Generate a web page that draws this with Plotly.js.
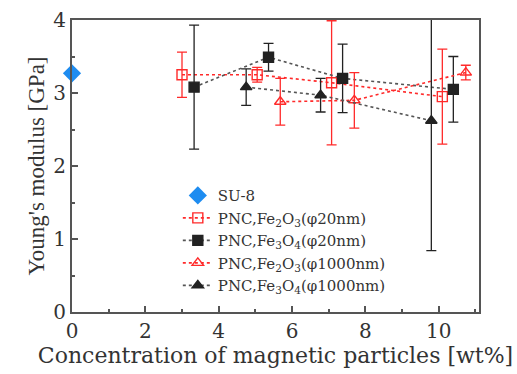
<!DOCTYPE html>
<html><head><meta charset="utf-8">
<script src="https://cdn.plot.ly/plotly-3.0.1.min.js"></script>
<style>body{margin:0}</style></head>
<body><div id="chart" style="width:517px;height:374px"></div>
<script>
// SU-8
const su8X = [0];
const su8Y = [3.27];
// PNC Fe2O3 (20nm)
const fe2o3_20_x = [3.0, 5.05, 7.08, 10.1];
const fe2o3_20_y = [3.25, 3.25, 3.14, 2.95];
const fe2o3_20_err = [0.31, 0.1, 0.85, 0.65];
// PNC Fe3O4 (20nm)
const fe3o4_20_x = [3.33, 5.36, 7.38, 10.4];
const fe3o4_20_y = [3.08, 3.49, 3.2, 3.05];
const fe3o4_20_err = [0.85, 0.19, 0.47, 0.45];
// PNC Fe2O3 (1000nm)
const fe2o3_1000_x = [5.68, 7.7, 10.74];
const fe2o3_1000_y = [2.88, 2.9, 3.28];
const fe2o3_1000_err = [0.32, 0.38, 0.1];
// PNC Fe3O4 (1000nm)
const fe3o4_1000_x = [4.75, 6.78, 9.8];
const fe3o4_1000_y = [3.08, 2.97, 2.62];
const fe3o4_1000_err = [0.25, 0.23, 1.78];

const names = ['SU-8',
  'PNC,Fe<sub>2</sub>O<sub>3</sub>(φ20nm)',
  'PNC,Fe<sub>3</sub>O<sub>4</sub>(φ20nm)',
  'PNC,Fe<sub>2</sub>O<sub>3</sub>(φ1000nm)',
  'PNC,Fe<sub>3</sub>O<sub>4</sub>(φ1000nm)'];

const RED = '#ff2a2a', BLK = '#222222';
const WIDE = 'DejaVu Serif';
function series(x, y, e, name, color, symbol, lineColor) {
  return {x, y, name, type: 'scatter', mode: 'lines+markers',
    line: {color: lineColor, dash: 'dot', width: 1.6},
    marker: {color: color, symbol: symbol, size: 10, line: {color: color, width: 1.4}},
    error_y: {type: 'data', array: e, visible: true, color: color, thickness: 1.3, width: 5}};
}
const traces = [
  {x: su8X, y: su8Y, name: names[0], type: 'scatter', mode: 'markers', cliponaxis: false,
   marker: {color: '#1e8cf0', symbol: 'diamond', size: 14}},
  series(fe2o3_20_x, fe2o3_20_y, fe2o3_20_err, names[1], RED, 'square-open', RED),
  series(fe3o4_20_x, fe3o4_20_y, fe3o4_20_err, names[2], BLK, 'square', '#555'),
  series(fe2o3_1000_x, fe2o3_1000_y, fe2o3_1000_err, names[3], RED, 'triangle-up-open', RED),
  series(fe3o4_1000_x, fe3o4_1000_y, fe3o4_1000_err, names[4], BLK, 'triangle-up', '#555')
];
const axisCommon = {showline: true, mirror: true, linecolor: '#555', linewidth: 2,
  ticks: 'inside', ticklen: 6, tickwidth: 1.5, tickcolor: '#555', showgrid: false, zeroline: false,
  tickfont: {family: WIDE, size: 20, color: '#333'}};
const layout = {
  width: 517, height: 374,
  margin: {l: 72, r: 38, t: 20, b: 62},
  paper_bgcolor: '#fff', plot_bgcolor: '#fff',
  font: {family: WIDE, color: '#333'},
  xaxis: Object.assign({}, axisCommon, {range: [0, 11.1], dtick: 2, tick0: 0,
    minor: {ticks: 'inside', dtick: 1, ticklen: 3, tickcolor: '#555'},
    title: {text: 'Concentration of magnetic particles [wt%]', font: {family: WIDE, size: 22, color: '#333'}, standoff: 6}}),
  yaxis: Object.assign({}, axisCommon, {range: [0, 4], dtick: 1, tick0: 0,
    minor: {ticks: 'inside', dtick: 0.5, ticklen: 3, tickcolor: '#555'},
    title: {text: "Young's modulus [GPa]", font: {family: 'Liberation Serif', size: 23, color: '#333'}, standoff: 2}}),
  showlegend: true,
  legend: {x: 0.26, y: 0.455, xanchor: 'left', yanchor: 'top', bgcolor: 'rgba(0,0,0,0)',
    font: {family: WIDE, size: 15, color: '#333'}, tracegroupgap: 0}
};
Plotly.newPlot('chart', traces, layout, {displayModeBar: false});
</script></body></html>
